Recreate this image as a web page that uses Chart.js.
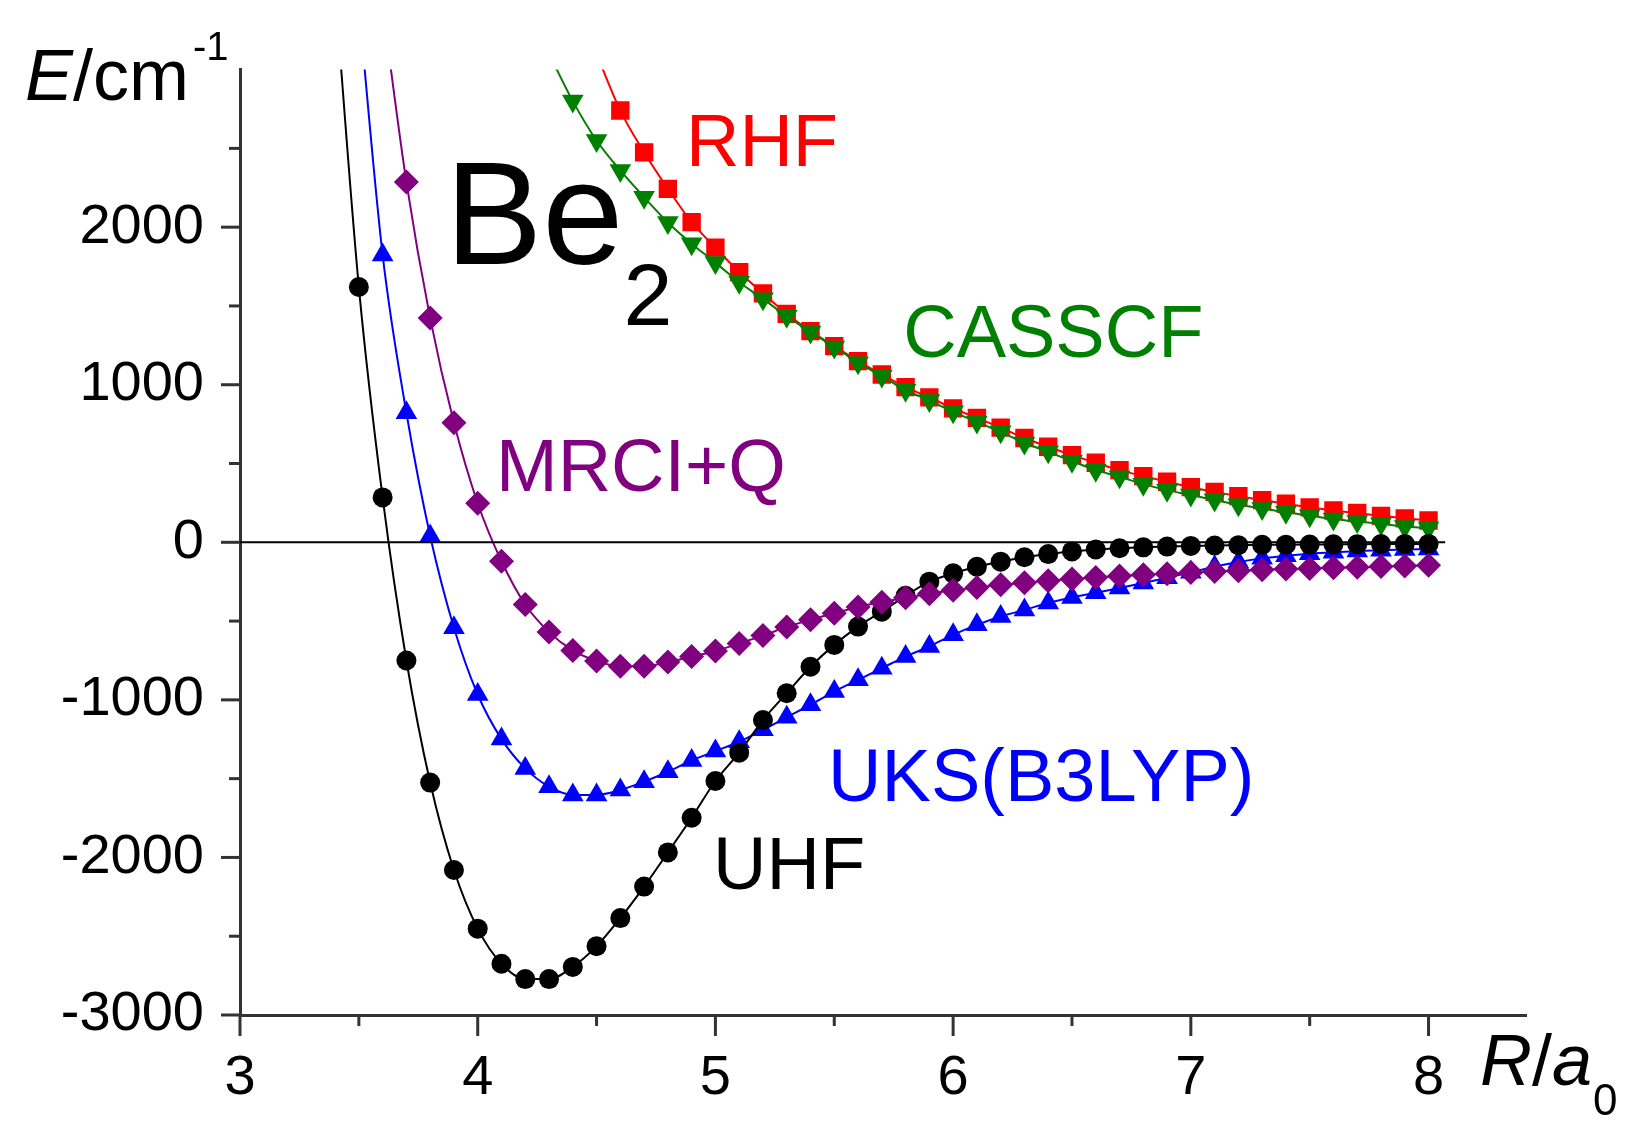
<!DOCTYPE html>
<html>
<head>
<meta charset="utf-8">
<title>Be2 potential energy curves</title>
<script src="https://cdn.jsdelivr.net/npm/chart.js@4/dist/chart.umd.min.js"></script>
<style>
  html, body { margin: 0; padding: 0; background: #fff; }
  #wrap { width: 1643px; height: 1148px; }
</style>
</head>
<body>
<div id="wrap"><canvas id="be2Chart" width="1643" height="1148"></canvas></div>
<script>
/* ================================================================
   Data — R grid (a0) and energies (cm^-1)
   ================================================================ */
const R = [3.4, 3.5, 3.6, 3.7, 3.8, 3.9, 4.0, 4.1, 4.2, 4.3, 4.4, 4.5, 4.6, 4.7, 4.8, 4.9,
           5.0, 5.1, 5.2, 5.3, 5.4, 5.5, 5.6, 5.7, 5.8, 5.9, 6.0, 6.1, 6.2, 6.3, 6.4, 6.5,
           6.6, 6.7, 6.8, 6.9, 7.0, 7.1, 7.2, 7.3, 7.4, 7.5, 7.6, 7.7, 7.8, 7.9, 8.0];

const UHF = [3500, 1620, 285, -750, -1525, -2080, -2452, -2675, -2772, -2772, -2695, -2563,
             -2385, -2185, -1968, -1748, -1515, -1335, -1128, -958, -790, -651, -535, -440,
             -340, -250, -197, -155, -123, -95, -75, -58, -46, -38, -32, -27, -23, -20, -18,
             -16, -15, -14, -13, -12, -11, -10, -10];

const UKS = [null, 3400, 1824, 822, 40, -542, -966, -1249, -1435, -1551, -1603, -1603,
             -1572, -1519, -1456, -1385, -1325, -1266, -1190, -1110, -1031, -947, -873, -799,
             -725, -661, -587, -524, -471, -429, -385, -350, -320, -290, -258, -225, -190,
             -155, -125, -102, -85, -72, -63, -56, -50, -46, -43];

const MRCIQ = [null, null, 3400, 2286, 1423, 759, 248, -120, -395, -570, -686, -753,
               -787, -787, -760, -725, -690, -642, -592, -537, -492, -450, -410, -380,
               -352, -327, -305, -287, -270, -256, -244, -233, -223, -214, -206, -199, -192,
               -186, -180, -175, -170, -166, -162, -158, -154, -150, -146];

const CASSCF = [null, null, null, null, null, null, null, null, null, 3100, 2800, 2550,
                2360, 2190, 2030, 1895, 1775, 1650, 1545, 1435, 1335, 1240, 1140, 1055,
                965, 900, 828, 764, 701, 630, 574, 515, 458, 416, 369, 331, 300, 268, 238,
                215, 190, 168, 148, 132, 117, 100, 90];

const RHF = [null, null, null, null, null, null, null, null, null, null, null, 3100,
             2740, 2475, 2243, 2032, 1870, 1715, 1580, 1450, 1340, 1245, 1150, 1065,
             985, 920, 850, 790, 728, 662, 606, 553, 505, 458, 420, 384, 350, 320, 293,
             268, 245, 222, 202, 186, 168, 152, 138];

const ZERO_LINE = [3, 8.07];

const X_MAJOR = [3, 4, 5, 6, 7, 8];
const X_MINOR = [3.5, 4.5, 5.5, 6.5, 7.5];
const Y_MAJOR = [-3000, -2000, -1000, 0, 1000, 2000];
const Y_MINOR = [-2500, -1500, -500, 500, 1500, 2500];
/* ================================================================ */

const FONT = '"Liberation Sans", Arial, sans-serif';
const AXIS_COLOR = '#333333';

// in-plot labels, anchored in data coordinates (left edge / baseline)
const SERIES_LABELS = [
  { text: 'RHF',        x: 4.876, y: 2387,  color: '#ff0000' },
  { text: 'CASSCF',     x: 5.790, y: 1179,  color: '#008000' },
  { text: 'MRCI+Q',     x: 4.077, y: 326,   color: '#800080' },
  { text: 'UKS(B3LYP)', x: 5.474, y: -1641, color: '#0000ff' },
  { text: 'UHF',        x: 4.990, y: -2203, color: '#000000' },
];

function series(vals) {
  return R.map((r, i) => ({ x: r, y: vals[i] })).filter(p => p.y !== null);
}

function drawRuns(ctx, x0, y0, runs) {
  let cx = x0;
  runs.forEach(run => {
    ctx.font = run.font;
    ctx.fillStyle = run.color || '#000';
    cx += run.dx || 0;
    ctx.fillText(run.text, cx, y0 + (run.dy || 0));
    cx += ctx.measureText(run.text).width;
  });
}

// ── Tick marks, axis titles and curve labels ─────────────────────
const decorPlugin = {
  id: 'decor',
  afterDraw(chart) {
    const { ctx, chartArea: area, scales: { x, y } } = chart;
    ctx.save();

    // tick marks (outward), major longer than minor
    ctx.strokeStyle = AXIS_COLOR;
    ctx.lineWidth = 3;
    const tickX = (v, len) => {
      const px = x.getPixelForValue(v);
      ctx.beginPath(); ctx.moveTo(px, area.bottom); ctx.lineTo(px, area.bottom + len); ctx.stroke();
    };
    const tickY = (v, len) => {
      const py = y.getPixelForValue(v);
      ctx.beginPath(); ctx.moveTo(area.left, py); ctx.lineTo(area.left - len, py); ctx.stroke();
    };
    X_MAJOR.forEach(v => tickX(v, 21));
    X_MINOR.forEach(v => tickX(v, 11));
    Y_MAJOR.forEach(v => tickY(v, 19));
    Y_MINOR.forEach(v => tickY(v, 11));

    ctx.textAlign = 'left';
    ctx.textBaseline = 'alphabetic';

    // axis titles
    drawRuns(ctx, 25, 100, [
      { text: 'E',   font: `italic 72px ${FONT}` },
      { text: '/cm', font: `72px ${FONT}` },
      { text: '-1',  font: `40px ${FONT}`, dx: 4, dy: -40 },
    ]);
    drawRuns(ctx, 1480, 1085, [
      { text: 'R', font: `italic 72px ${FONT}` },
      { text: '/', font: `72px ${FONT}` },
      { text: 'a', font: `italic 72px ${FONT}` },
      { text: '0', font: `44px ${FONT}`, dx: 1, dy: 30 },
    ]);

    // molecule label
    drawRuns(ctx, x.getPixelForValue(3.862), y.getPixelForValue(1767), [
      { text: 'Be', font: `146px ${FONT}` },
      { text: '2',  font: `88px ${FONT}`, dy: 61 },
    ]);

    // curve labels
    ctx.font = `74px ${FONT}`;
    SERIES_LABELS.forEach(l => {
      ctx.fillStyle = l.color;
      ctx.fillText(l.text, x.getPixelForValue(l.x), y.getPixelForValue(l.y));
    });

    ctx.restore();
  }
};

const lineDefaults = {
  showLine: true,
  borderWidth: 2,
  cubicInterpolationMode: 'monotone',
  pointBorderWidth: 0,
  pointHoverRadius: 0,
};

new Chart(document.getElementById('be2Chart'), {
  type: 'scatter',
  data: {
    datasets: [
      { ...lineDefaults, label: 'zero', data: ZERO_LINE.map(r => ({ x: r, y: 0 })),
        borderColor: '#000', borderWidth: 2, pointRadius: 0, order: 0 },
      { ...lineDefaults, label: 'MRCI+Q', data: series(MRCIQ), order: 1,
        borderColor: '#800080', backgroundColor: '#800080', pointStyle: 'rectRot', pointRadius: 12.5 },
      { ...lineDefaults, label: 'UHF', data: series(UHF), order: 2,
        borderColor: '#000000', backgroundColor: '#000000', pointStyle: 'circle', pointRadius: 10 },
      { ...lineDefaults, label: 'UKS(B3LYP)', data: series(UKS), order: 3,
        borderColor: '#0000ff', backgroundColor: '#0000ff', pointStyle: 'triangle', pointRadius: 12.5 },
      { ...lineDefaults, label: 'CASSCF', data: series(CASSCF), order: 4,
        borderColor: '#008000', backgroundColor: '#008000', pointStyle: 'triangle', pointRadius: 12.5,
        pointRotation: 180 },
      { ...lineDefaults, label: 'RHF', data: series(RHF), order: 5,
        borderColor: '#ff0000', backgroundColor: '#ff0000', pointStyle: 'rect', pointRadius: 13 },
    ],
  },
  options: {
    responsive: false,
    animation: false,
    devicePixelRatio: 1,
    layout: { padding: { top: 66, right: 117, bottom: 0, left: 0 } },
    plugins: { legend: { display: false }, tooltip: { enabled: false } },
    scales: {
      x: {
        type: 'linear',
        min: 3,
        max: 8.41,
        afterFit: s => { s.height = 133; },
        afterBuildTicks: s => { s.ticks = X_MAJOR.map(v => ({ value: v })); },
        grid: { display: false, drawTicks: false },
        border: { display: true, color: AXIS_COLOR, width: 3 },
        ticks: {
          autoSkip: false,
          maxRotation: 0,
          padding: 30,
          color: '#000',
          font: { family: FONT, size: 56 },
          callback: v => String(v),
        },
      },
      y: {
        type: 'linear',
        min: -3000,
        max: 3000,
        afterFit: s => { s.width = 240; },
        afterBuildTicks: s => { s.ticks = Y_MAJOR.map(v => ({ value: v })); },
        grid: { display: false, drawTicks: false },
        border: { display: true, color: AXIS_COLOR, width: 3 },
        ticks: {
          autoSkip: false,
          padding: 36,
          color: '#000',
          font: { family: FONT, size: 56 },
          callback: v => String(v),
        },
      },
    },
  },
  plugins: [decorPlugin],
});
</script>
</body>
</html>
